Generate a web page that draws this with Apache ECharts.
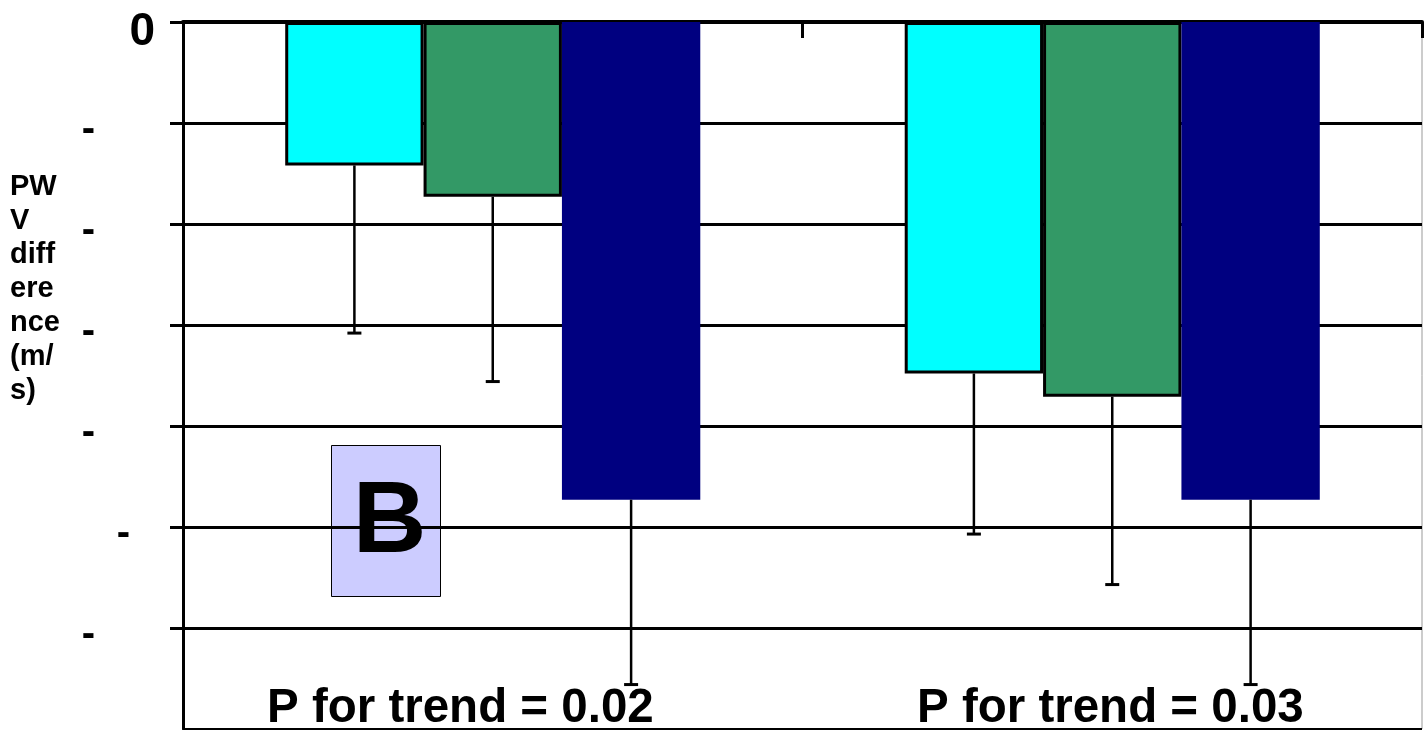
<!DOCTYPE html>
<html>
<head>
<meta charset="utf-8">
<script src="https://cdn.jsdelivr.net/npm/echarts@6/dist/echarts.min.js"></script>
<style>
html,body{margin:0;padding:0;background:#fff;}
#chart{width:1428px;height:730px;}
</style>
</head>
<body>
<div id="chart"></div>
<script>
// ---- data ----
const categories = ['Group A', 'Group B'];
const seriesNames = ['Low', 'Middle', 'High'];
const lowValues = [-0.142, -0.348];
const midValues = [-0.173, -0.371];
const highValues = [-0.473, -0.473];
const lowErr = [0.166, 0.159];
const midErr = [0.183, 0.186];
const highErr = [0.183, 0.183];
const pTexts = ['P for trend = 0.02', 'P for trend = 0.03'];
const yName = 'PW\nV\ndiff\nere\nnce\n(m/\ns)';
const panelLabel = 'B';

const colors = ['#00FFFF', '#339966', '#000080'];
const valueSets = [lowValues, midValues, highValues];
const errSets = [lowErr, midErr, highErr];
const GAP = 0.33;

const errData = [];
for (let s = 0; s < 3; s++) {
  for (let c = 0; c < categories.length; c++) {
    errData.push([c, s, valueSets[s][c], errSets[s][c]]);
  }
}

function renderErr(params, api) {
  const cat = api.value(0), s = api.value(1), v = api.value(2), e = api.value(3);
  const band = api.size([1, 0])[0];
  const bw = band * (1 - GAP) / 3;
  const cx = api.coord([cat, 0])[0] + (s - 1) * bw;
  const y1 = api.coord([cat, v])[1];
  const y2 = api.coord([cat, v - e])[1];
  return {
    type: 'group',
    children: [
      {type: 'line', shape: {x1: cx, y1: y1, x2: cx, y2: y2}, style: {stroke: '#000', lineWidth: 2.5}},
      {type: 'line', shape: {x1: cx - 7, y1: y2, x2: cx + 7, y2: y2}, style: {stroke: '#000', lineWidth: 3}}
    ]
  };
}

const chart = echarts.init(document.getElementById('chart'));
const option = {
  animation: false,
  backgroundColor: '#fff',
  grid: {left: 183, top: 22, right: 6, bottom: 1, containLabel: false, outerBoundsMode: 'none',
         show: true, borderColor: '#999', borderWidth: 1, backgroundColor: 'transparent'},
  xAxis: {
    type: 'category',
    data: categories,
    position: 'top',
    axisLine: {show: true, onZero: false, lineStyle: {color: '#000', width: 4}},
    axisTick: {show: true, inside: true, length: 16, lineStyle: {color: '#000', width: 3}},
    axisLabel: {show: false},
    splitLine: {show: false}
  },
  yAxis: {
    type: 'value',
    min: -0.7,
    max: 0,
    interval: 0.1,
    axisLine: {show: true, lineStyle: {color: '#000', width: 3}},
    axisTick: {show: true, length: 13, lineStyle: {color: '#000', width: 3}},
    splitLine: {show: true, lineStyle: {color: '#000', width: 3}},
    axisLabel: {
      margin: 28,
      showMinLabel: false,
      formatter: function (v) {
        if (Math.abs(v) < 1e-9) return '{z|0}';
        if (Math.abs(v + 0.7) < 1e-9) return '';
        if (Math.abs(v + 0.5) < 1e-9) return '{m|-}';
        return '{h|-}';
      },
      rich: {
        z: {fontFamily: 'Liberation Sans, Arial', fontWeight: 'bold', fontSize: 46, color: '#000', padding: [20, 0, 0, 0]},
        h: {fontFamily: 'Liberation Sans, Arial', fontWeight: 'bold', fontSize: 40, color: '#000', padding: [14, 60, 0, 0]},
        m: {fontFamily: 'Liberation Sans, Arial', fontWeight: 'bold', fontSize: 40, color: '#000', padding: [14, 25, 0, 0]}
      }
    }
  },
  series: [
    {name: seriesNames[0], type: 'bar', data: lowValues, barGap: '0%', barCategoryGap: '33%',
     itemStyle: {color: colors[0], borderColor: '#000', borderWidth: 3}, z: 3},
    {name: seriesNames[1], type: 'bar', data: midValues, barGap: '0%', barCategoryGap: '33%',
     itemStyle: {color: colors[1], borderColor: '#000', borderWidth: 3}, z: 3},
    {name: seriesNames[2], type: 'bar', data: highValues, barGap: '0%', barCategoryGap: '33%',
     itemStyle: {color: colors[2], borderWidth: 0}, z: 3},
    {type: 'custom', data: errData, renderItem: renderErr, z: 4, encode: {x: 0, y: 2}}
  ],
  graphic: [
    {type: 'text', left: 10, top: 170, z: 10,
     style: {text: yName, fontFamily: 'Liberation Sans, Arial', fontWeight: 'bold', fontSize: 29, lineHeight: 34, fill: '#000'}},
    {type: 'group', left: 331, top: 445, z: 10, children: [
      {type: 'rect', shape: {x: 0, y: 0, width: 109, height: 151}, style: {fill: '#CCCCFF', stroke: '#000', lineWidth: 1}},
      {type: 'text', x: 58, y: 78, style: {text: panelLabel, fontFamily: 'Liberation Sans, Arial', fontWeight: 'bold', fontSize: 102, fill: '#000', align: 'center', verticalAlign: 'middle'}}
    ]},
    {type: 'text', x: 267, y: 709, z: 10,
     style: {text: pTexts[0], fontFamily: 'Liberation Sans, Arial', fontWeight: 'bold', fontSize: 47.5, fill: '#000', verticalAlign: 'middle'}},
    {type: 'text', x: 917, y: 709, z: 10,
     style: {text: pTexts[1], fontFamily: 'Liberation Sans, Arial', fontWeight: 'bold', fontSize: 47.5, fill: '#000', verticalAlign: 'middle'}}
  ]
};
chart.setOption(option);
</script>
</body>
</html>
